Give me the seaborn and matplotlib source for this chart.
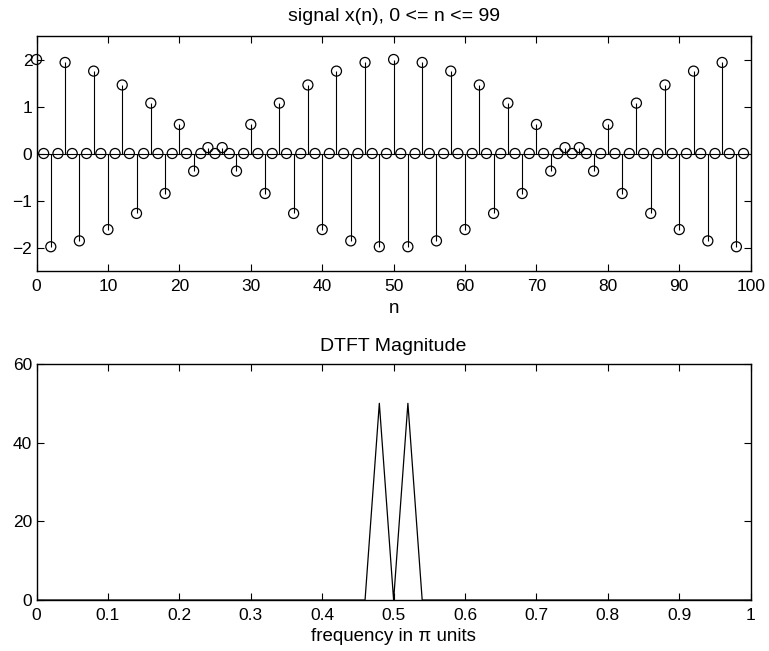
import matplotlib
matplotlib.use("Agg")
import matplotlib.pyplot as plt
import seaborn as sns
import pandas as pd

# ---- data ----
n_values = list(range(100))
x_values = [
    2.000, 0, -1.984, 0, 1.937, 0, -1.859, 0, 1.753, 0,
    -1.618, 0, 1.458, 0, -1.275, 0, 1.072, 0, -0.851, 0,
    0.618, 0, -0.375, 0, 0.126, 0, 0.126, 0, -0.375, 0,
    0.618, 0, -0.851, 0, 1.072, 0, -1.275, 0, 1.458, 0,
    -1.618, 0, 1.753, 0, -1.859, 0, 1.937, 0, -1.984, 0,
    2.000, 0, -1.984, 0, 1.937, 0, -1.859, 0, 1.753, 0,
    -1.618, 0, 1.458, 0, -1.275, 0, 1.072, 0, -0.851, 0,
    0.618, 0, -0.375, 0, 0.126, 0, 0.126, 0, -0.375, 0,
    0.618, 0, -0.851, 0, 1.072, 0, -1.275, 0, 1.458, 0,
    -1.618, 0, 1.753, 0, -1.859, 0, 1.937, 0, -1.984, 0,
]
freq_values = [0.0, 0.46, 0.48, 0.50, 0.52, 0.54, 1.0]
mag_values = [0, 0, 50, 0, 50, 0, 0]

top_xticks = [0, 10, 20, 30, 40, 50, 60, 70, 80, 90, 100]
top_yticks = [-2, -1, 0, 1, 2]
top_yticklabels = ["\u22122", "\u22121", "0", "1", "2"]
bot_xticks = [0, 0.1, 0.2, 0.3, 0.4, 0.5, 0.6, 0.7, 0.8, 0.9, 1]
bot_xticklabels = ["0", "0.1", "0.2", "0.3", "0.4", "0.5", "0.6", "0.7", "0.8", "0.9", "1"]
bot_yticks = [0, 20, 40, 60]

sig = pd.DataFrame({"n": n_values, "x": x_values})
dtft = pd.DataFrame({"f": freq_values, "mag": mag_values})

sns.set_style("ticks")
plt.rcParams["font.family"] = ["Liberation Sans", "DejaVu Sans"]
plt.rcParams["font.size"] = 12.5
plt.rcParams["text.color"] = "black"
plt.rcParams["axes.labelcolor"] = "black"
plt.rcParams["xtick.direction"] = "in"
plt.rcParams["ytick.direction"] = "in"

fig = plt.figure(figsize=(7.69, 6.51), dpi=100)
ax1 = fig.add_axes([0.0475, 0.5837, 0.9287, 0.3610])
ax2 = fig.add_axes([0.0475, 0.0783, 0.9287, 0.3626])

# ---- top: stem plot ----
ax1.axhline(0, color="black", lw=0.8, zorder=1)
ax1.vlines(sig["n"], 0, sig["x"], color="black", lw=0.8, zorder=2)
sns.scatterplot(data=sig, x="n", y="x", ax=ax1, marker="o", s=52,
                facecolor="none", edgecolor="black", linewidth=0.9,
                zorder=3, clip_on=False)
ax1.set_xlim(0, 100)
ax1.set_ylim(-2.5, 2.5)
ax1.set_xticks(top_xticks)
ax1.set_yticks(top_yticks)
ax1.set_yticklabels(top_yticklabels)
ax1.set_xlabel("n", labelpad=4, fontsize=13.5)
ax1.set_ylabel("")
ax1.set_title("signal x(n), 0 <= n <= 99", fontsize=14, pad=11, color="black")

# ---- bottom: DTFT magnitude ----
sns.lineplot(data=dtft, x="f", y="mag", ax=ax2, color="black", lw=0.9,
             estimator=None, sort=False)
ax2.set_xlim(0, 1)
ax2.set_ylim(0, 60)
ax2.set_xticks(bot_xticks)
ax2.set_xticklabels(bot_xticklabels)
ax2.set_yticks(bot_yticks)
ax2.set_xlabel("frequency in \u03c0 units", labelpad=3, fontsize=13.5)
ax2.set_ylabel("")
ax2.set_title("DTFT Magnitude", fontsize=14, pad=9, color="black")

for ax in (ax1, ax2):
    for s in ax.spines.values():
        s.set_visible(True)
        s.set_linewidth(1.0)
        s.set_color("black")
    ax.tick_params(axis="both", which="both", direction="in", length=5,
                   width=0.8, top=True, right=True, labelsize=12.5,
                   colors="black", pad=6)
    ax.tick_params(axis="y", pad=3)

fig.savefig("out.png", dpi=100)
